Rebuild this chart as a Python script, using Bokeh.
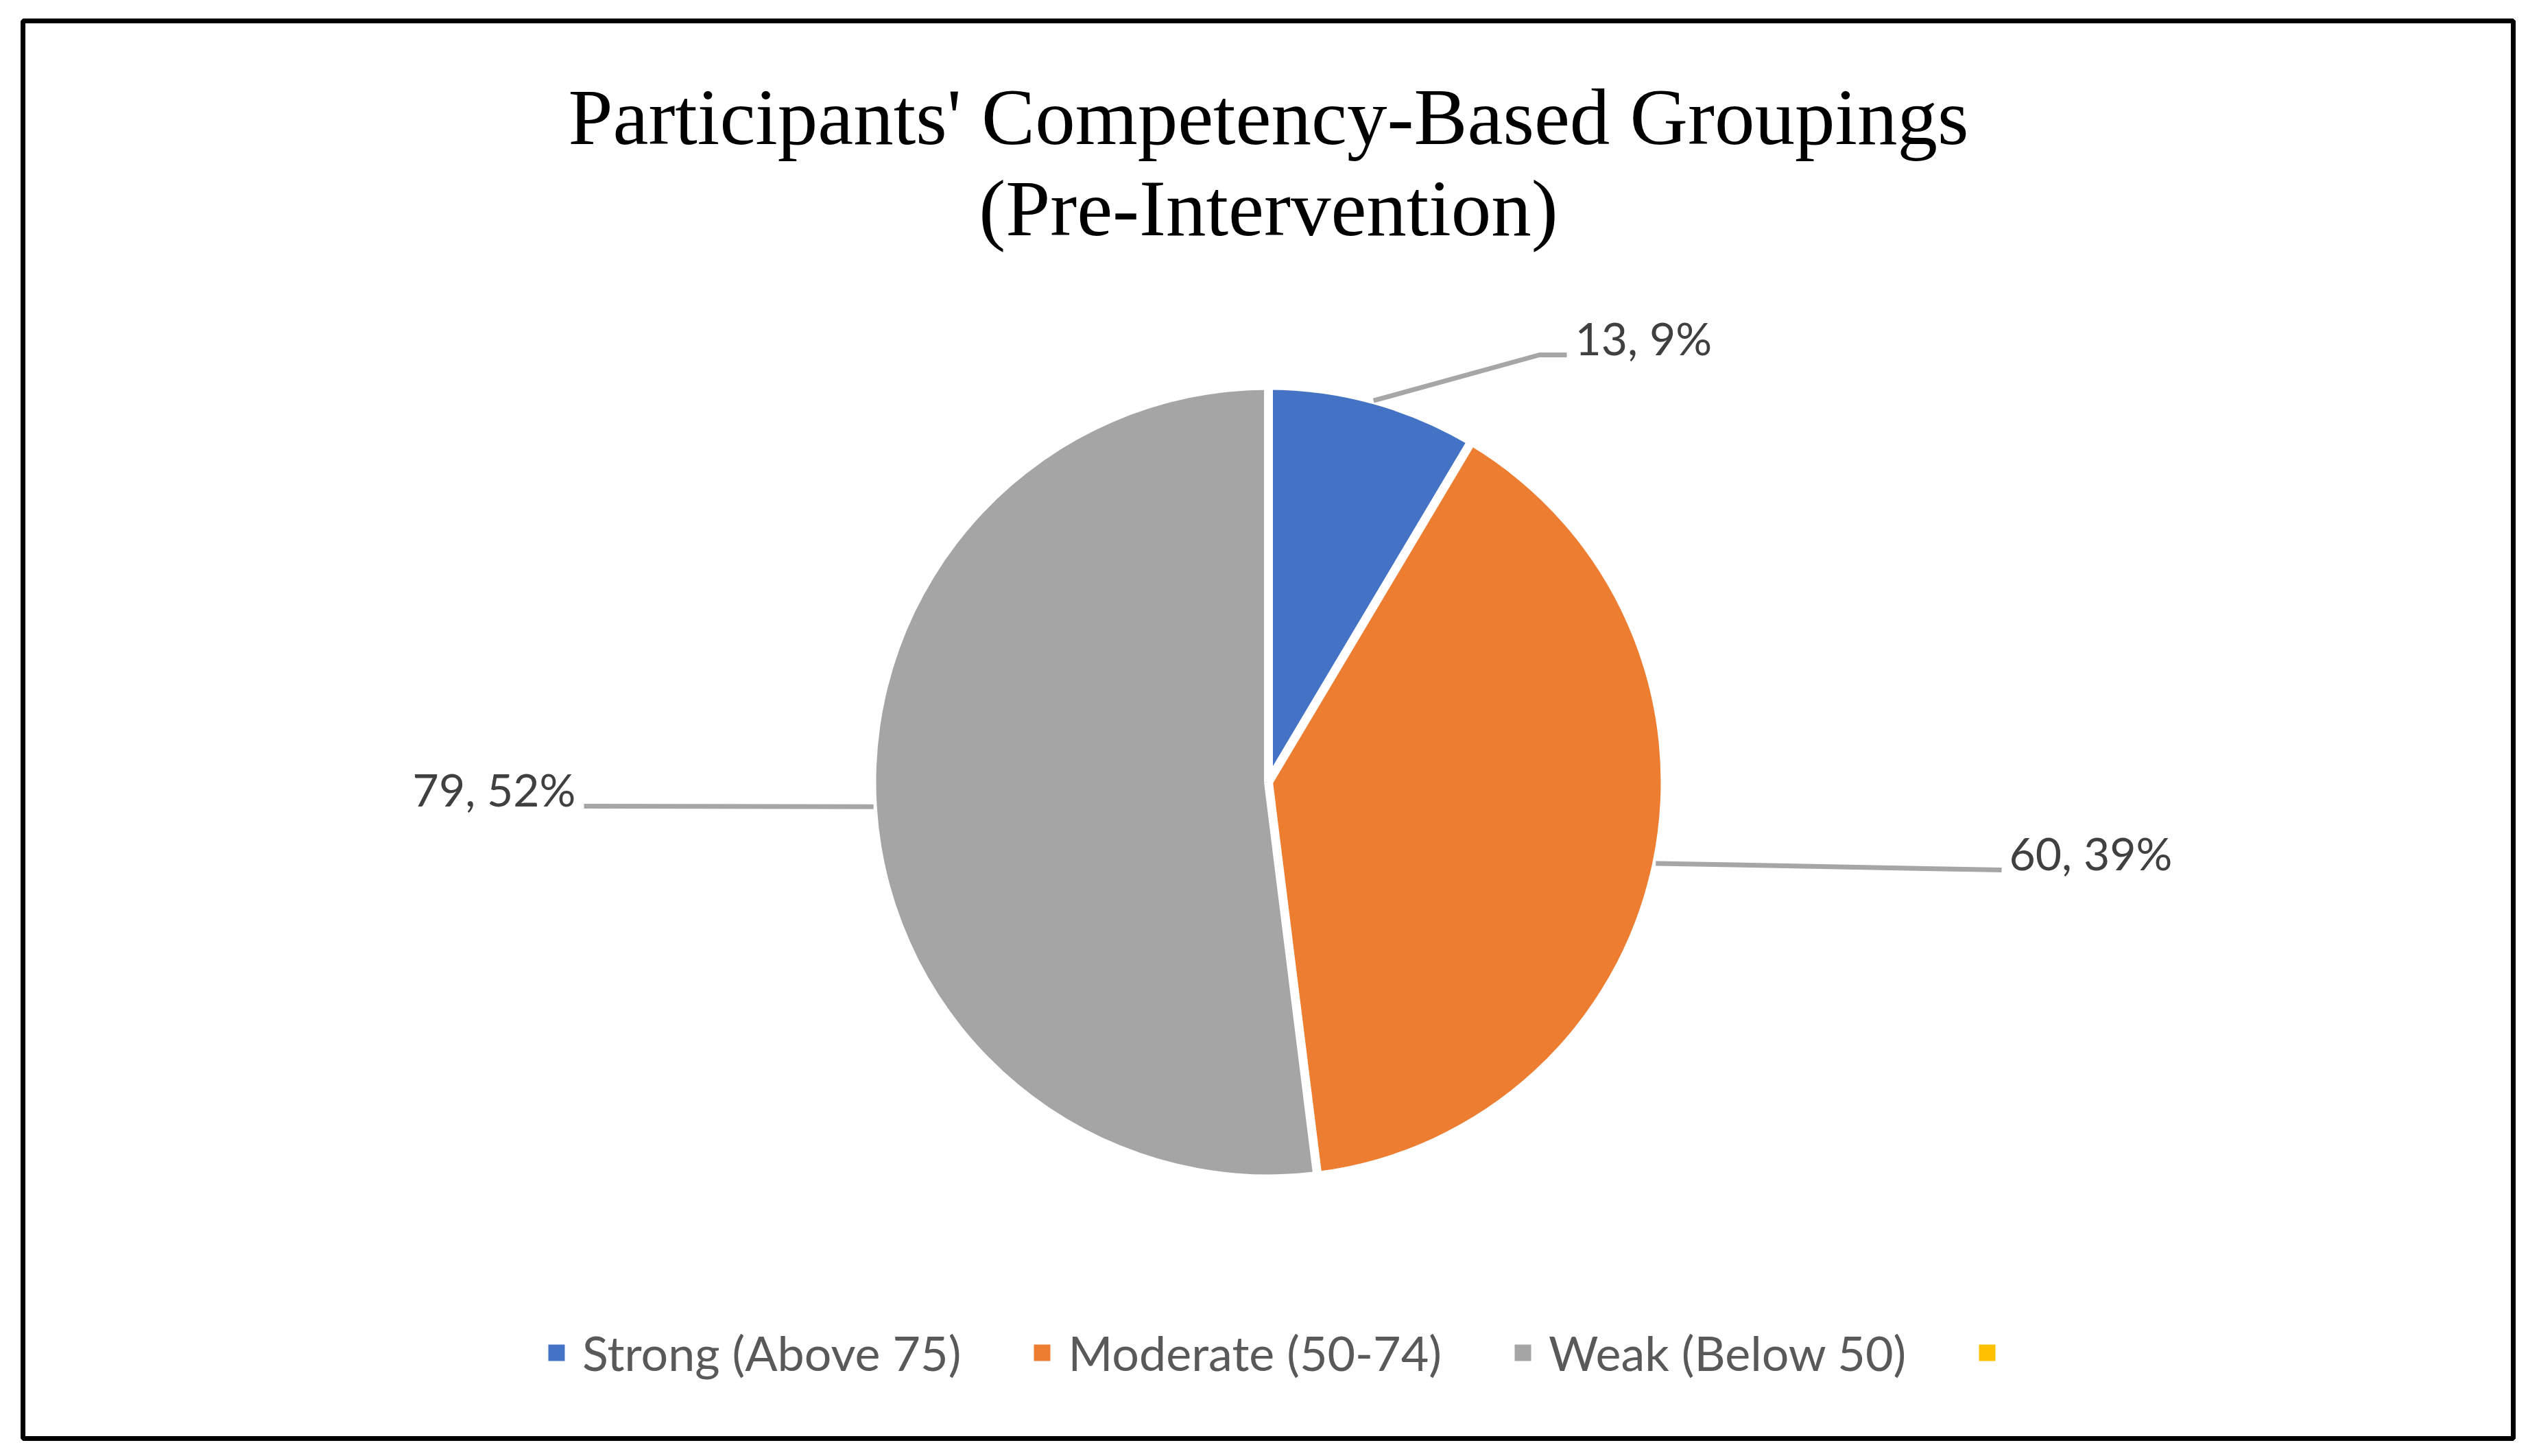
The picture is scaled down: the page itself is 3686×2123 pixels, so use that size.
import math
from bokeh.plotting import figure
from bokeh.models import Range1d, Legend, LegendItem, ColumnDataSource
from bokeh.core.properties import value
from bokeh.embed import file_html
from bokeh.resources import INLINE

# ---- data ----
categories = ["Strong (Above 75)", "Moderate (50-74)", "Weak (Below 50)", ""]
counts = [13, 60, 79, 0]
colors = ["#4472C4", "#ED7D31", "#A5A5A5", "#FFC000"]
title_lines = ["Participants' Competency-Based Groupings", "(Pre-Intervention)"]

# ---- layout (page pixels of the reference) ----
W, H = 3670, 2107


def px(X, Y):
    return X, H - Y


CX, CY = px(1849, 1140)
R = 572
# label anchor (text position) and leader-line waypoints per slice, in page px
label_layout = [
    dict(text=(2296, 492), align="left", path=[(2244, 517), (2284, 517)]),
    dict(text=(2929, 1243), align="left", path=[(2918, 1268)]),
    dict(text=(839, 1150), align="right", path=[(851, 1175)]),
    None,
]

total = sum(counts)
cum = [0.0]
for c in counts:
    cum.append(cum[-1] + c / total)
start = [math.pi / 2 - 2 * math.pi * cum[i] for i in range(len(counts))]
end = [math.pi / 2 - 2 * math.pi * cum[i + 1] for i in range(len(counts))]
radius = [R if c > 0 else 0 for c in counts]
labels = [f"{c}, {round(100 * c / total)}%" for c in counts]

p = figure(width=W, height=H, output_backend="svg", toolbar_location=None,
           x_range=Range1d(0, W), y_range=Range1d(0, H),
           x_axis_type=None, y_axis_type=None, min_border=0,
           outline_line_color=None, background_fill_color="white",
           border_fill_color="white")
p.grid.visible = False

src = ColumnDataSource(dict(cat=categories, count=counts, start=start, end=end,
                            radius=radius, color=colors))
wr = p.wedge(x=CX, y=CY, radius="radius", start_angle="start", end_angle="end",
             direction="clock", fill_color="color", line_color=None, source=src)

# white separators between slices
sx0, sy0, sx1, sy1 = [], [], [], []
for i, c in enumerate(counts):
    a = start[i]
    sx0.append(CX); sy0.append(CY)
    sx1.append(CX + (R + 3) * math.cos(a)); sy1.append(CY + (R + 3) * math.sin(a))
p.segment(x0=sx0, y0=sy0, x1=sx1, y1=sy1, line_color="white", line_width=13, line_cap="butt")

# leader lines + data labels
lxs, lys = [], []
tx, ty, tt, ta = [], [], [], []
for i, c in enumerate(counts):
    lay = label_layout[i]
    if c == 0 or lay is None:
        continue
    mid = (start[i] + end[i]) / 2
    xs = [CX + (R + 5) * math.cos(mid)]
    ys = [CY + (R + 5) * math.sin(mid)]
    for (X, Y) in lay["path"]:
        x, y = px(X, Y)
        xs.append(x); ys.append(y)
    lxs.append(xs); lys.append(ys)
    x, y = px(*lay["text"])
    tx.append(x); ty.append(y); tt.append(labels[i]); ta.append(lay["align"])

p.multi_line(xs=lxs, ys=lys, line_color="#A6A6A6", line_width=7)
tsrc = ColumnDataSource(dict(x=tx, y=ty, text=tt, align=ta))
p.text(x="x", y="y", text="text", text_align="align", text_baseline="alphabetic",
       text_font=value("Lato"), text_font_size="66px", text_color="#404040", source=tsrc)

# title
t1x, t1y = px(1849, 170)
t2x, t2y = px(1849, 303)
p.text(x=[t1x, t2x], y=[t1y, t2y], text=title_lines, text_align="center",
       text_baseline="alphabetic", text_font=value("Liberation Serif"),
       text_font_size="117px", text_color="black")

# chart border
bl, bt = px(33, 30)
br, bb = px(3664, 2097)
p.quad(left=[bl], right=[br], top=[bt], bottom=[bb], fill_color=None,
       line_color="black", line_width=7)

items = [LegendItem(label=value(categories[i]), renderers=[wr], index=i) for i in range(len(categories))]
legend = Legend(items=items, orientation="horizontal", location=(796, 93),
                glyph_width=30, glyph_height=30, label_standoff=23, spacing=103,
                padding=0, margin=0, border_line_color=None, background_fill_alpha=0,
                label_text_font="Lato", label_text_font_size="70px",
                label_text_color="#595959")
p.add_layout(legend)

open("out.html", "w").write(file_html(p, INLINE))
